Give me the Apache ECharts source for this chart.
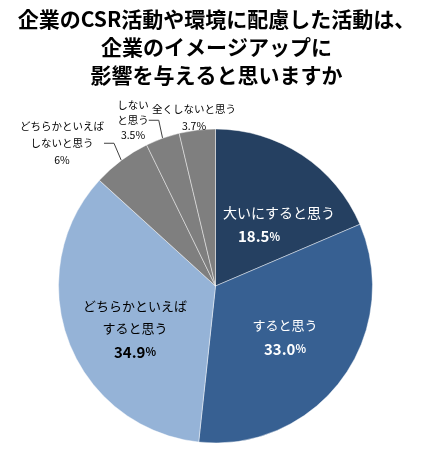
<!DOCTYPE html>
<html>
<head>
<meta charset="utf-8">
<script src="https://cdn.jsdelivr.net/npm/echarts@6/dist/echarts.min.js"></script>
<style>
  html, body { margin: 0; padding: 0; background: #fff; }
  #main { width: 433px; height: 464px; }
</style>
</head>
<body>
<div id="main"></div>
<script>
// データ
var categories = ['大いにすると思う', 'すると思う', 'どちらかといえば\nすると思う',
                  'どちらかといえば\nしないと思う', 'しない\nと思う', '全くしないと思う'];
var values = [18.5, 33.0, 34.9, 6, 3.5, 3.7];
var valueLabels = ['18.5', '33.0', '34.9', '6', '3.5', '3.7'];

var colors = ['#254061', '#376092', '#95B3D7', '#7F7F7F', '#7F7F7F', '#7F7F7F'];
// ラベル位置（中心）
var labelPos = [[279, 221], [285, 333], [135, 325], [62, 140], [133, 118], [194, 114]];

var font = '"Noto Sans CJK JP", sans-serif';

var chart = echarts.init(document.getElementById('main'));

var seriesData = values.map(function (v, i) {
    var inside = i < 3;
    var txtColor = (i < 2) ? '#fff' : '#000';
    var item = {
        name: categories[i],
        value: v,
        itemStyle: { color: colors[i] },
        label: inside ? {
            position: 'inside',
            formatter: function () {
                return '{n|' + categories[i] + '}\n{b|' + valueLabels[i] + '}{p|%}';
            },
            rich: {
                n: { fontSize: i === 0 ? 14 : 13, color: txtColor, fontFamily: font, lineHeight: 22 },
                b: { fontSize: 15, fontWeight: 'bold', color: txtColor, fontFamily: font, lineHeight: 26 },
                p: { fontSize: 11, fontWeight: 'bold', color: txtColor, fontFamily: font, lineHeight: 26,
                     padding: i === 0 ? [0, 40, 0, 0] : 0 }
            }
        } : {
            position: 'outside',
            overflow: 'none',
            formatter: function () {
                return '{n|' + categories[i] + '}\n{b|' + valueLabels[i] + '%}';
            },
            rich: {
                n: { fontSize: 10.5, color: '#000', fontFamily: font, lineHeight: i === 4 ? 15 : 17 },
                b: { fontSize: 10.5, color: '#000', fontFamily: font, lineHeight: i === 4 ? 15 : 17 }
            }
        },
        labelLine: { show: i === 3 || i === 4 }
    };
    return item;
});

var option = {
    backgroundColor: '#fff',
    animation: false,
    title: {
        text: '企業のCSR活動や環境に配慮した活動は、\n企業のイメージアップに\n影響を与えると思いますか',
        left: 'center',
        top: 0,
        textStyle: {
            fontFamily: font,
            fontSize: 21,
            fontWeight: 'bold',
            color: '#000',
            lineHeight: 28,
            align: 'center'
        }
    },
    series: [
        {
            type: 'pie',
            center: [215.5, 286],
            radius: 157,
            startAngle: 90,
            clockwise: true,
            data: seriesData,
            itemStyle: {
                borderColor: 'rgba(255,255,255,0.55)',
                borderWidth: 0.8
            },
            label: { overflow: 'none', bleedMargin: 0 },
            labelLine: {
                length: 8,
                length2: 10,
                lineStyle: { color: '#404040', width: 1 }
            },
            labelLayout: function (params) {
                var p = labelPos[params.dataIndex];
                return {
                    x: p[0],
                    y: p[1] - params.labelRect.height / 2,
                    align: 'center',
                    verticalAlign: 'top'
                };
            }
        }
    ]
};

chart.setOption(option);
</script>
</body>
</html>
